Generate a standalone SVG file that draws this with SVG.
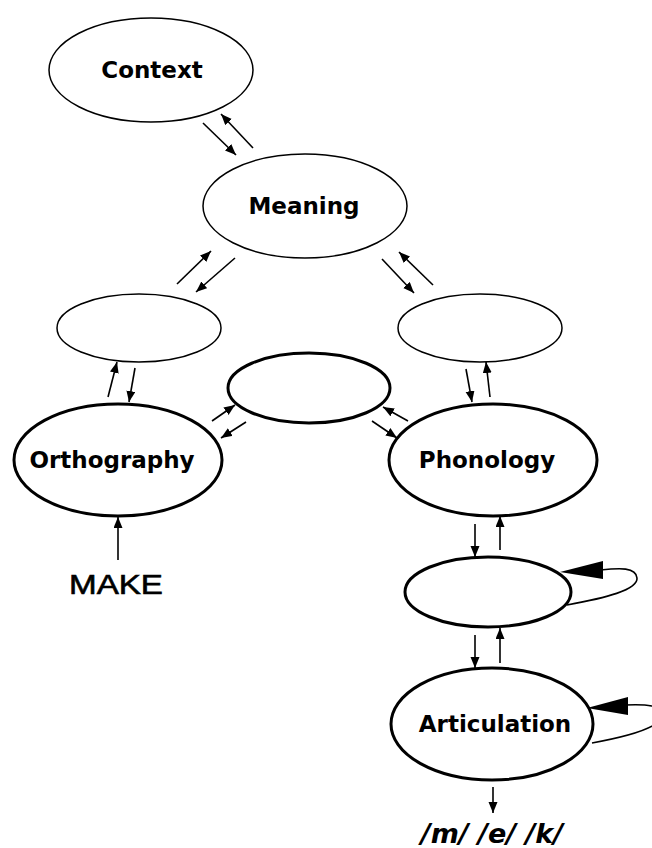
<svg xmlns="http://www.w3.org/2000/svg" width="652" height="848" viewBox="0 0 652 848">
  <style>
    .thin { fill: #fff; stroke: #000; stroke-width: 1.5; }
    .thick { fill: #fff; stroke: #000; stroke-width: 3; }
    .lbl { font-family: "DejaVu Sans", Verdana, sans-serif; font-weight: bold; font-size: 23px; text-anchor: middle; fill: #000; }
    .arr { fill: none; stroke: #000; stroke-width: 1.6; marker-end: url(#head); }
    .loop { fill: none; stroke: #000; stroke-width: 1.6; }
  </style>
  <defs>
    <marker id="head" markerUnits="userSpaceOnUse" markerWidth="12" markerHeight="10" refX="11" refY="4.5" orient="auto">
      <path d="M0,0 L11,4.5 L0,9 z" fill="#000"/>
    </marker>
  </defs>
  <rect width="652" height="848" fill="#fff"/>

  <g id="context">
    <ellipse class="thin" cx="151" cy="70" rx="102" ry="52"/>
    <text class="lbl" x="152" y="78">Context</text>
  </g>
  <g id="meaning">
    <ellipse class="thin" cx="305" cy="206" rx="102" ry="52"/>
    <text class="lbl" x="304" y="214">Meaning</text>
  </g>
  <g id="left-hidden">
    <ellipse class="thin" cx="139" cy="328" rx="82" ry="34"/>
  </g>
  <g id="right-hidden">
    <ellipse class="thin" cx="480" cy="328" rx="82" ry="34"/>
  </g>
  <g id="centre-hidden">
    <ellipse class="thick" cx="309" cy="388" rx="81" ry="35"/>
  </g>
  <g id="orthography">
    <ellipse class="thick" cx="118" cy="460" rx="104" ry="56"/>
    <text class="lbl" x="112" y="468">Orthography</text>
  </g>
  <g id="phonology">
    <ellipse class="thick" cx="493" cy="460" rx="104" ry="56"/>
    <text class="lbl" x="487" y="468">Phonology</text>
  </g>
  <g id="lower-hidden">
    <ellipse class="thick" cx="488" cy="592" rx="83" ry="35"/>
  </g>
  <g id="articulation">
    <ellipse class="thick" cx="492" cy="724" rx="101" ry="56"/>
    <text class="lbl" x="495" y="732">Articulation</text>
  </g>

  <g id="input">
    <text x="116" y="594" font-family="'Liberation Sans', Arial, sans-serif" font-size="28" stroke="#000" stroke-width="0.6" text-anchor="middle" textLength="94" lengthAdjust="spacingAndGlyphs">MAKE</text>
  </g>
  <g id="output">
    <text x="492" y="843" font-family="'DejaVu Sans', Verdana, sans-serif" font-weight="bold" font-style="italic" font-size="27" text-anchor="middle">/m/ /e/ /k/</text>
  </g>

  <g id="connectors">
    <!-- Context <-> Meaning -->
    <line class="arr" x1="203" y1="123" x2="236" y2="155"/>
    <line class="arr" x1="253" y1="148" x2="221" y2="114"/>
    <!-- Meaning <-> left -->
    <line class="arr" x1="177" y1="284" x2="211" y2="251"/>
    <line class="arr" x1="235" y1="258" x2="196" y2="292"/>
    <!-- Meaning <-> right -->
    <line class="arr" x1="382" y1="259" x2="414" y2="293"/>
    <line class="arr" x1="433" y1="285" x2="399" y2="252"/>
    <!-- left <-> Orthography -->
    <line class="arr" x1="108" y1="397" x2="117" y2="362"/>
    <line class="arr" x1="135" y1="368" x2="129" y2="402"/>
    <!-- Orthography <-> centre -->
    <line class="arr" x1="212" y1="421" x2="235" y2="405"/>
    <line class="arr" x1="246" y1="422" x2="221" y2="438"/>
    <!-- centre <-> Phonology -->
    <line class="arr" x1="408" y1="421" x2="383" y2="407"/>
    <line class="arr" x1="372" y1="421" x2="397" y2="438"/>
    <!-- right <-> Phonology -->
    <line class="arr" x1="466" y1="369" x2="472" y2="402"/>
    <line class="arr" x1="490" y1="397" x2="486" y2="362"/>
    <!-- Phonology <-> lower -->
    <line class="arr" x1="475" y1="524" x2="475" y2="557"/>
    <line class="arr" x1="500" y1="550" x2="500" y2="516"/>
    <!-- lower <-> Articulation -->
    <line class="arr" x1="475" y1="635" x2="475" y2="668"/>
    <line class="arr" x1="500" y1="663" x2="500" y2="628"/>
    <!-- Articulation -> output -->
    <line class="arr" x1="493" y1="787" x2="493" y2="813"/>
    <!-- input -> Orthography -->
    <line class="arr" x1="118" y1="560" x2="118" y2="517"/>
    <!-- self loops -->
    <path class="loop" d="M567,605 C605,598 638,590 637,578 C636,567 620,568 600,570"/>
    <polygon points="560,572 603,561 603,579" fill="#000"/>
    <path class="loop" d="M592,743 C625,737 660,728 662,716 C664,705 645,704 625,705"/>
    <polygon points="587,708 628,697 628,715" fill="#000"/>
  </g>
</svg>
